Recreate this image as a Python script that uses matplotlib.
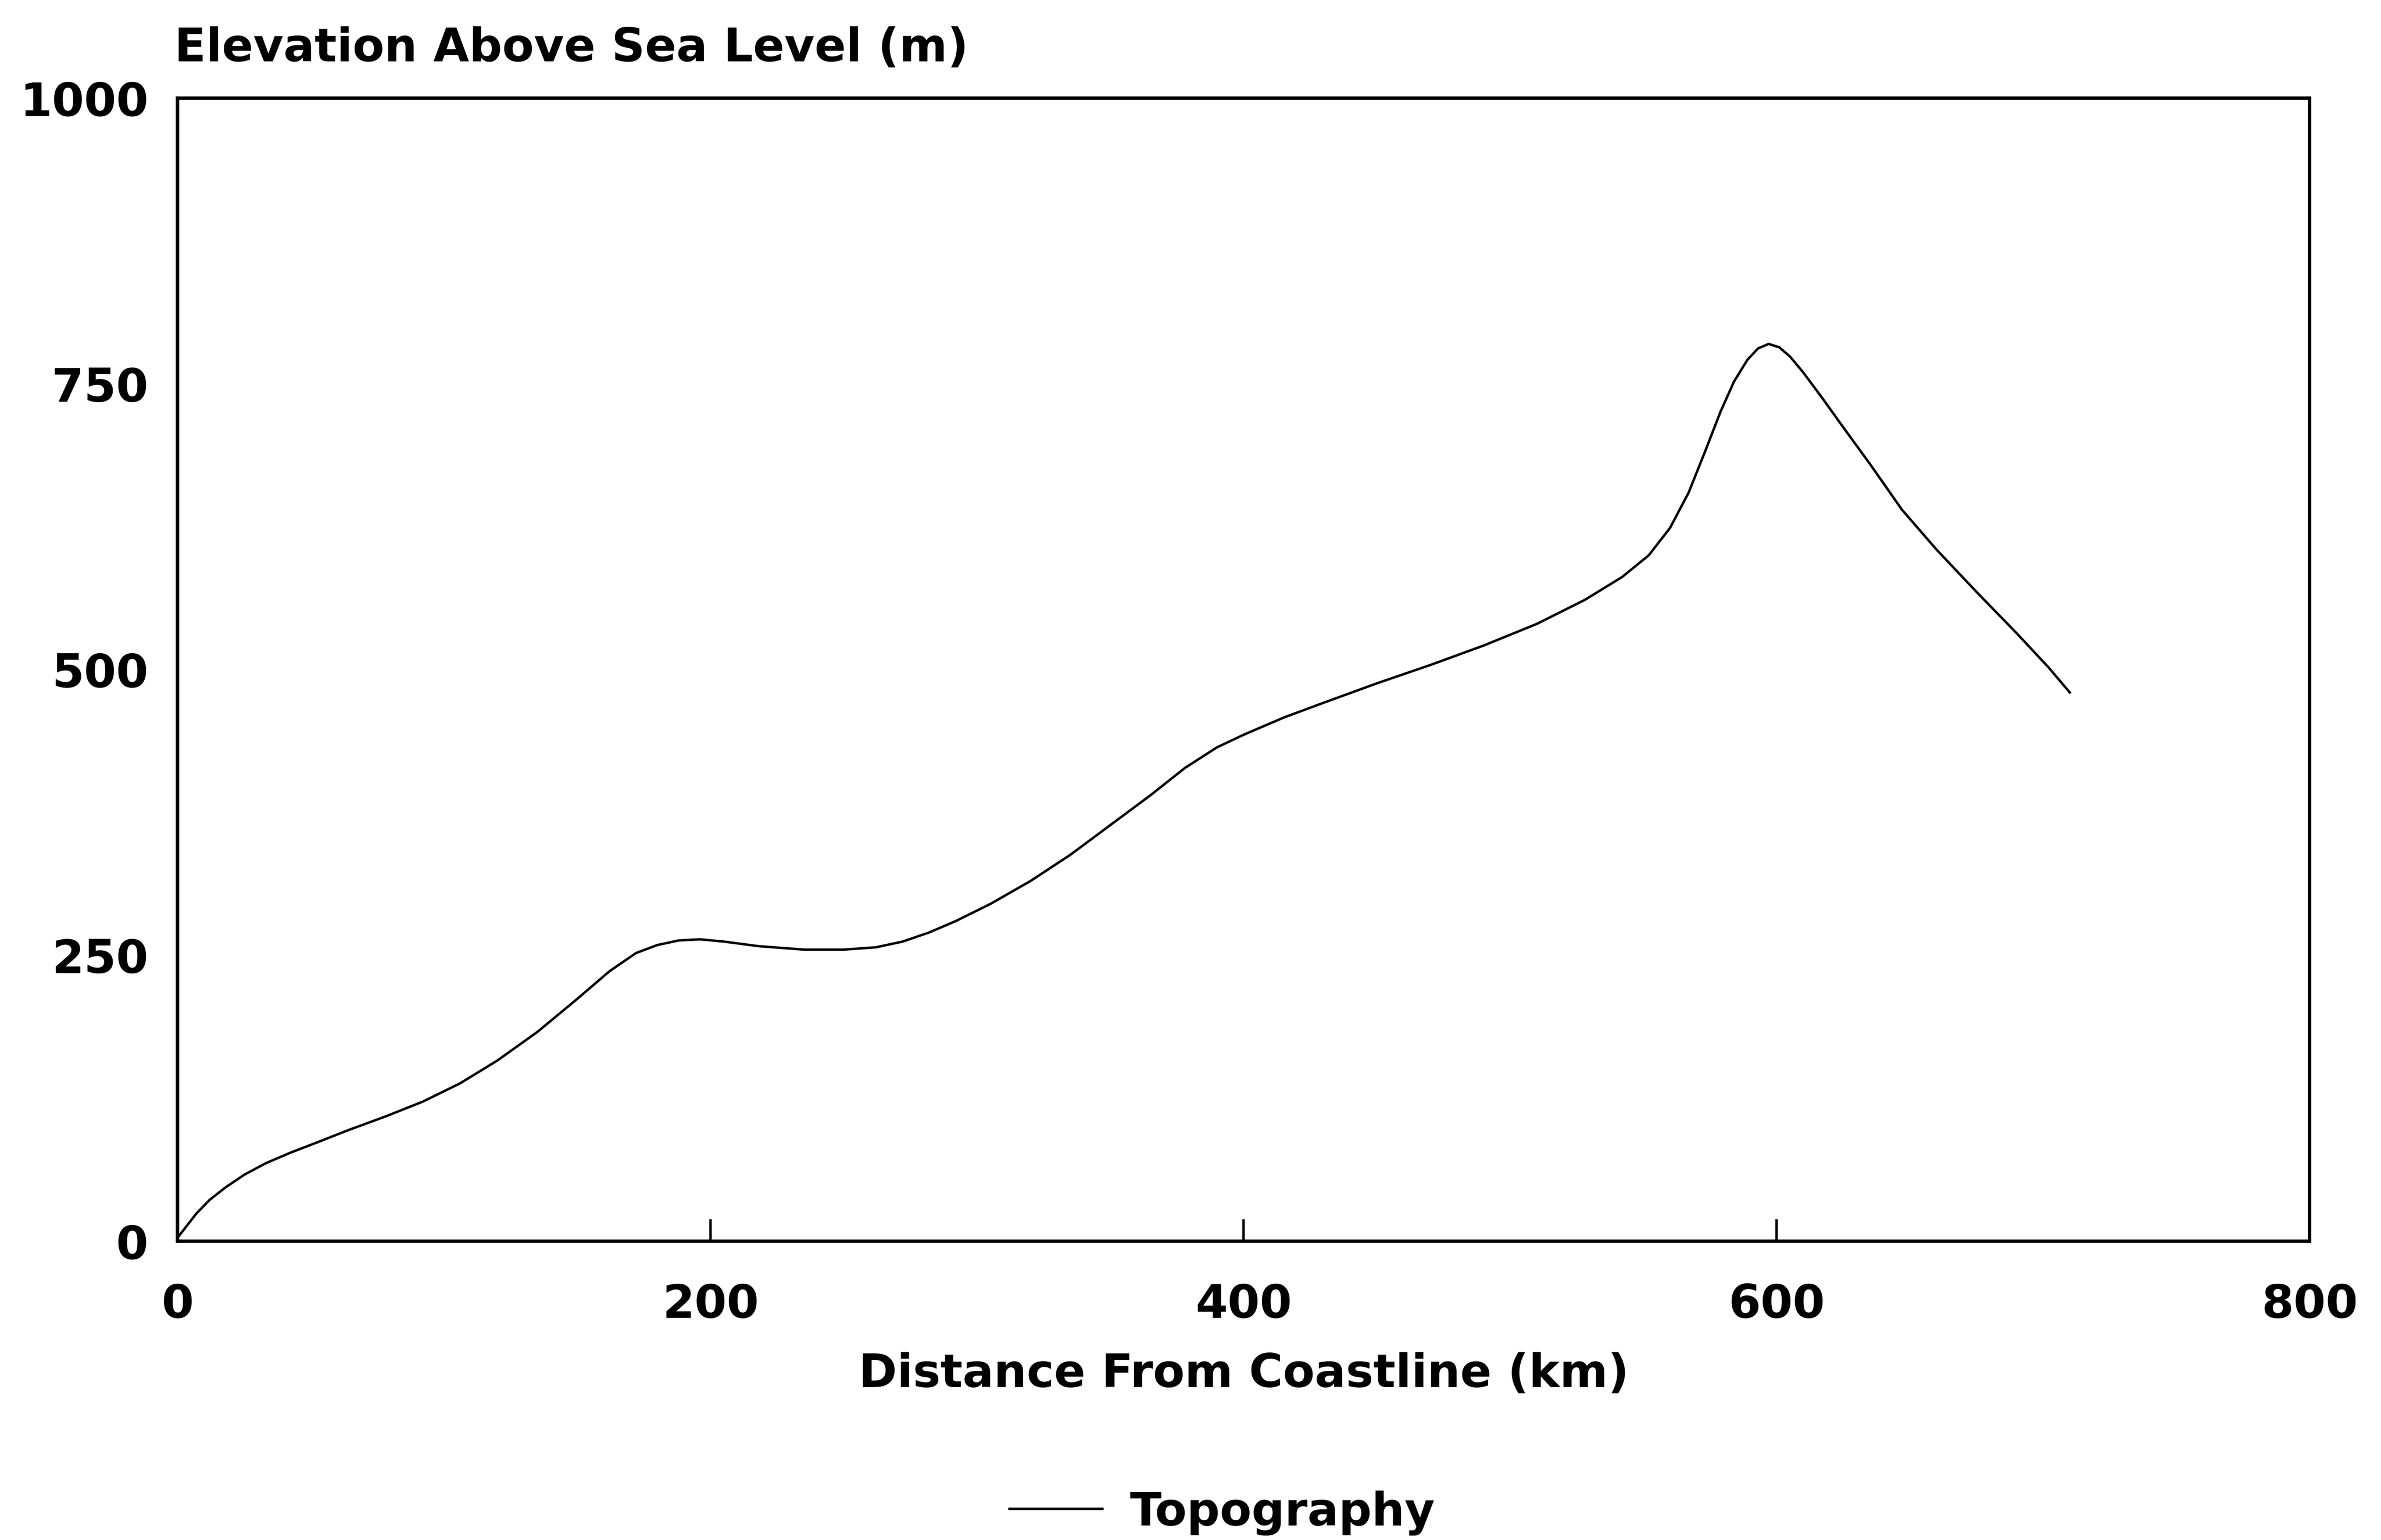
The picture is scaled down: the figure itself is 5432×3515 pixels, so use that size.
import matplotlib
matplotlib.use("Agg")
import matplotlib.pyplot as plt

distance_km = [0, 3, 7, 12, 18, 25, 33, 42, 52, 64, 78, 92, 106, 120, 135, 150,
               162, 172, 180, 188, 196, 205, 218, 235, 250, 262, 272, 282, 292,
               305, 320, 335, 350, 365, 378, 390, 400, 415, 430, 450, 470, 490,
               510, 528, 542, 552, 560, 567, 573, 579, 584, 589, 593, 597, 601,
               605, 610, 617, 625, 635, 647, 660, 675, 690, 702, 710]
elevation_m = [3, 12, 24, 36, 47, 58, 68, 77, 86, 97, 109, 122, 138, 158, 183, 212,
               236, 252, 259, 263, 264, 262, 258, 255, 255, 257, 262, 270, 280,
               295, 315, 338, 364, 390, 414, 432, 443, 458, 471, 488, 504, 521,
               540, 561, 581, 600, 624, 655, 690, 726, 752, 771, 781, 785, 782,
               774, 760, 738, 712, 680, 640, 605, 568, 532, 502, 480]
x_ticks = [0, 200, 400, 600, 800]
y_ticks = [0, 250, 500, 750, 1000]

W, H, DPI = 5432, 3516, 400
fig = plt.figure(figsize=(W / DPI, H / DPI), dpi=DPI)
ax = fig.add_axes([117 / 1568, 1 - 818 / 1015, (1521 - 117) / 1568, (818 - 65) / 1015])

font = dict(family="DejaVu Sans", weight="bold", size=19)

line, = ax.plot(distance_km, elevation_m, color="black", lw=1.0, label="Topography",
                solid_joinstyle="round")
ax.set_xlim(0, 800)
ax.set_ylim(0, 1000)
ax.set_xticks(x_ticks)
ax.set_yticks(y_ticks)
ax.set_xticklabels([str(v) for v in x_ticks], fontdict=font)
ax.set_yticklabels([str(v) for v in y_ticks], fontdict=font)
ax.tick_params(axis="x", direction="in", length=9, width=1.0, pad=17)
ax.tick_params(axis="y", length=0, pad=12)
for s in ax.spines.values():
    s.set_linewidth(1.4)

ax.set_xlabel("Distance From Coastline (km)", fontdict=font, labelpad=10)
fig.text(115 / 1568, 1 - 32 / 1015, "Elevation Above Sea Level (m)", ha="left", va="center", **font)

leg = fig.legend(handles=[line], loc="center", bbox_to_anchor=(805 / 1568, 1 - 997 / 1015),
                 frameon=False, prop=dict(family="DejaVu Sans", weight="bold", size=19),
                 handlelength=2.0, handletextpad=0.6)

fig.savefig("out.png", dpi=DPI)
